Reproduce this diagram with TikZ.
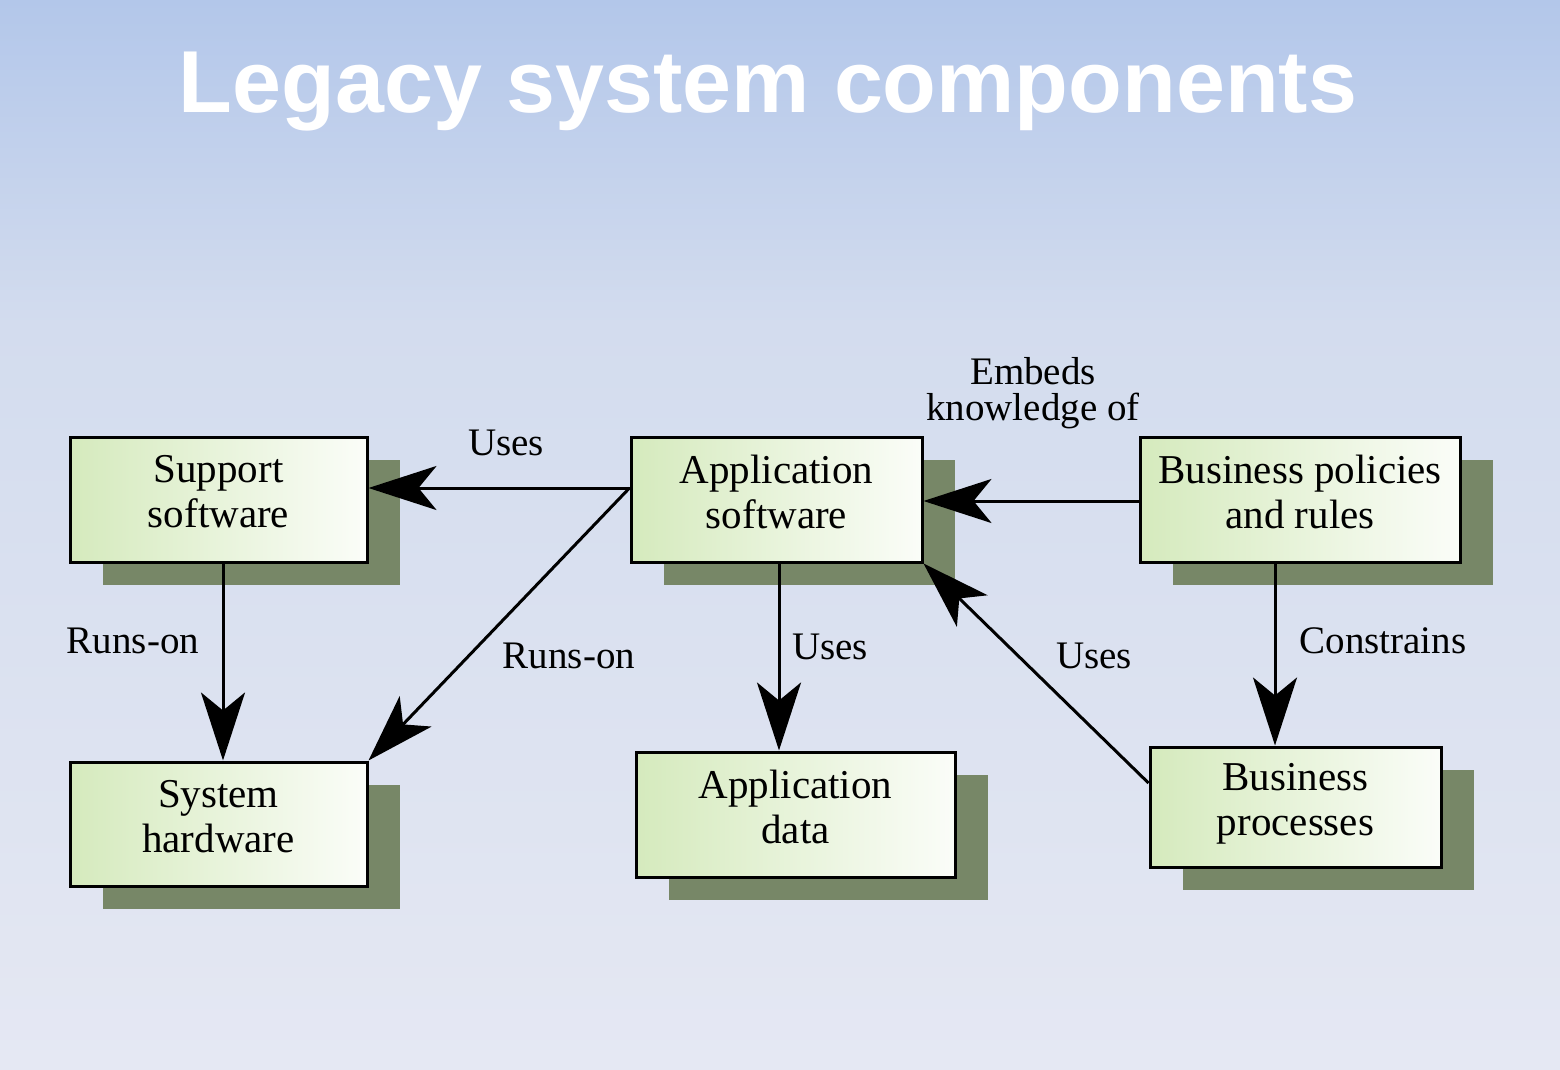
\documentclass[tikz,border=0pt]{standalone}
\usepackage{fontspec}
\setmainfont{Liberation Serif}
\newfontfamily\titlefont{Liberation Sans}
\usetikzlibrary{arrows.meta,shadows}
\definecolor{bgtop}{HTML}{B3C7EA}
\definecolor{bgmid}{HTML}{D3DCEE}
\definecolor{bgbot}{HTML}{E5E8F3}
\definecolor{boxg}{HTML}{D5EABD}
\definecolor{shad}{HTML}{778767}
\begin{document}
\begin{tikzpicture}[x=1pt,y=-1pt,
  box/.style={draw=black,line width=3pt,
    left color=boxg, right color=white!90!boxg,
    align=center,font=\fontsize{41}{45}\selectfont,inner sep=0pt,
    drop shadow={shadow xshift=33pt,shadow yshift=-23pt,fill=shad,opacity=1}},
  arr/.style={line width=3pt,-{Stealth[length=68pt,width=44pt,inset=18pt]}},
  lab/.style={font=\fontsize{39}{40}\selectfont,align=center}]
\shade[top color=bgtop,bottom color=bgmid] (0,0) rectangle (1560,325);
\shade[top color=bgmid,bottom color=bgbot] (0,325) rectangle (1560,1070);
\useasboundingbox (0,0) rectangle (1560,1070);
\node[text=white,font=\titlefont\bfseries\fontsize{88}{92}\selectfont] (title) at (768,92) {Legacy system components};
\node[box,minimum width=297pt,minimum height=125pt] (ss) at (218.5,499.5) {Support\\software\\[-29pt]};
\node[box,minimum width=291pt,minimum height=125pt] (as) at (776.5,499.5) {Application\\software\\[-29pt]};
\node[box,minimum width=320pt,minimum height=125pt] (bp) at (1300,499.5) {Business policies\\and rules\\[-29pt]};
\node[box,minimum width=297pt,minimum height=124pt] (sh) at (218.5,824) {System\\hardware\\[-29pt]};
\node[box,minimum width=319pt,minimum height=125pt] (ad) at (795.5,814.5) {Application\\data\\[-29pt]};
\node[box,minimum width=291pt,minimum height=120pt] (pr) at (1295.5,807) {Business\\processes\\[-29pt]};
\draw[arr] (as.west |- 0,488) -- (ss.east |- 0,488);
\draw[arr] (ss.south -| 223,0) -- (sh.north -| 223,0);
\draw[arr] (as.west |- 0,488) -- (sh.north east);
\draw[arr] (as.south -| 779,0) -- (ad.north -| 779,0);
\draw[arr] (bp.west |- 0,501) -- (as.east |- 0,501);
\draw[arr] (pr.west |- 0,783) -- (as.south east);
\draw[arr] (bp.south -| 1275,0) -- (pr.north -| 1275,0);
\node[lab] (l1) at (506,443) {Uses};
\node[lab] (l2) at (133,641) {Runs-on};
\node[lab] (l3) at (569,656) {Runs-on};
\node[lab] (l4) at (830,647) {Uses};
\node[lab] (l5) at (1033,393) {Embeds\\[-4pt]knowledge of};
\node[lab] (l6) at (1094,656) {Uses};
\node[lab] (l7) at (1383,641) {Constrains};
\end{tikzpicture}
\end{document}
